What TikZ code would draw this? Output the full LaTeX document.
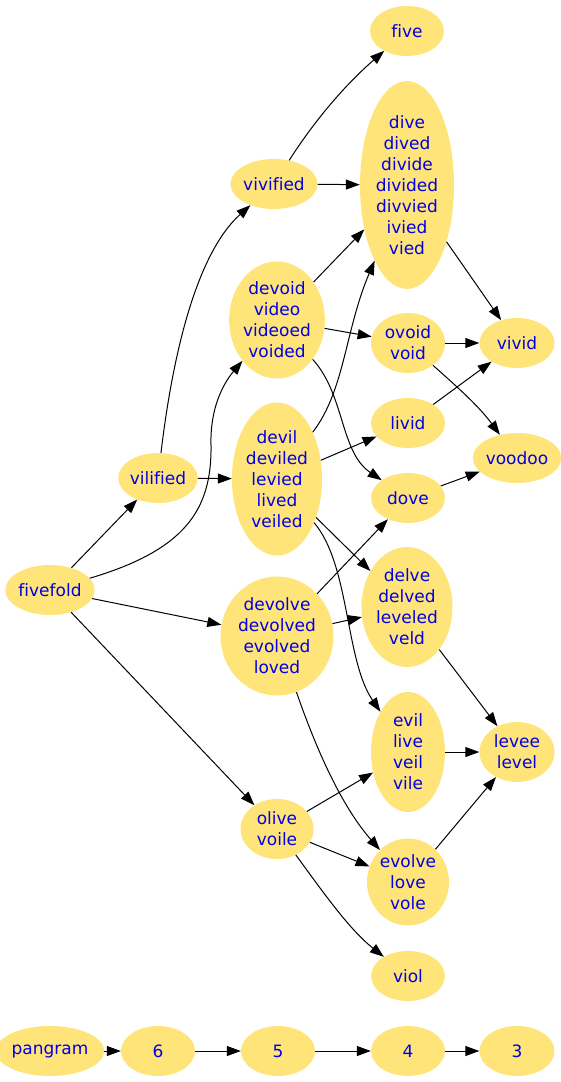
\documentclass[tikz,border=0pt]{standalone}
\usepackage{fontspec}
\setmainfont{DejaVu Sans}[Ligatures={NoCommon}]
\usetikzlibrary{shapes.geometric,arrows.meta}
\definecolor{nodefill}{RGB}{255,228,122}
\definecolor{nodetext}{RGB}{0,0,230}
\tikzset{
  nd/.style={ellipse, fill=nodefill, draw=none, inner sep=0pt, text=nodetext,
    align=center, font=\fontsize{17}{21}\selectfont},
  sm/.style={nd, minimum width=74pt, minimum height=50pt},
  edge/.style={draw=black, line width=1pt, -{Triangle[length=14pt,width=10pt]}}
}
\begin{document}
\begin{tikzpicture}[x=1pt,y=-1pt]
\useasboundingbox (0,0) rectangle (560,1082);
% nodes
\node[sm] (five) at (407,31) {five};
\node[nd, minimum width=94pt, minimum height=208pt] (dive) at (407,185) {dive\\dived\\divide\\divided\\divvied\\ivied\\vied};
\node[sm, minimum width=68pt] (vivified) at (274,184) {vivified};
\node[nd, minimum width=94pt, minimum height=117pt] (devoid) at (277,320) {devoid\\video\\videoed\\voided};
\node[nd, minimum width=74pt, minimum height=60pt] (ovoid) at (408,343) {ovoid\\void};
\node[sm, minimum width=75pt] (vivid) at (517,343) {vivid};
\node[sm] (livid) at (408,423) {livid};
\node[sm, minimum width=75pt] (voodoo) at (517,458) {voodoo};
\node[nd, minimum width=90pt, minimum height=153pt] (devil) at (277,479) {devil\\deviled\\levied\\lived\\veiled};
\node[sm] (vilified) at (158,478) {vilified};
\node[sm] (dove) at (408,498) {dove};
\node[sm, minimum width=75pt] (fivefold) at (50,590) {fivefold};
\node[nd, minimum width=91pt, minimum height=120pt] (delve) at (407,607) {delve\\delved\\leveled\\veld};
\node[nd, minimum width=113pt, minimum height=119pt] (devolve) at (277,636) {devolve\\devolved\\evolved\\loved};
\node[nd, minimum width=74pt, minimum height=120pt] (evil) at (408,752) {evil\\live\\veil\\vile};
\node[nd, minimum width=75pt, minimum height=60pt] (levee) at (517,752) {levee\\level};
\node[nd, minimum width=73pt, minimum height=60pt] (olive) at (277,829) {olive\\voile};
\node[nd, minimum width=82pt, minimum height=87pt] (evolve) at (408,882) {evolve\\love\\vole};
\node[sm] (viol) at (408,976) {viol};
\node[sm, minimum width=89pt] (pangram) at (50,1051) {pangram};
\node[sm] (n6) at (158,1051) {6};
\node[sm] (n5) at (278,1051) {5};
\node[sm] (n4) at (408,1051) {4};
\node[sm, minimum width=75pt] (n3) at (517,1051) {3};
% edges
\draw[edge] (fivefold) -- (vilified);
\draw[edge] (fivefold) .. controls (185,550) and (212,510) .. (211,445) .. controls (210,410) and (222,385) .. (devoid);
\draw[edge] (fivefold) -- (devolve);
\draw[edge] (fivefold) -- (olive);
\draw[edge] (vilified) .. controls (172,360) and (195,255) .. (vivified);
\draw[edge] (vilified) -- (devil);
\draw[edge] (vivified) .. controls (315,120) and (345,85) .. (five);
\draw[edge] (vivified) -- (dive);
\draw[edge] (devoid) -- (dive);
\draw[edge] (devoid) -- (ovoid);
\draw[edge] (devoid) .. controls (345,395) and (340,452) .. (dove);
\draw[edge] (devil) .. controls (345,390) and (345,330) .. (dive);
\draw[edge] (devil) -- (livid);
\draw[edge] (devil) -- (delve);
\draw[edge] (devil) .. controls (350,565) and (345,660) .. (evil);
\draw[edge] (devolve) -- (dove);
\draw[edge] (devolve) -- (delve);
\draw[edge] (devolve) .. controls (320,760) and (345,810) .. (evolve);
\draw[edge] (dive) -- (vivid);
\draw[edge] (ovoid) -- (vivid);
\draw[edge] (ovoid) .. controls (455,385) and (478,405) .. (voodoo);
\draw[edge] (livid) -- (vivid);
\draw[edge] (dove) -- (voodoo);
\draw[edge] (delve) -- (levee);
\draw[edge] (evil) -- (levee);
\draw[edge] (olive) -- (evil);
\draw[edge] (olive) -- (evolve);
\draw[edge] (olive) .. controls (325,895) and (350,930) .. (viol);
\draw[edge] (evolve) -- (levee);
\draw[edge] (pangram) -- (n6);
\draw[edge] (n6) -- (n5);
\draw[edge] (n5) -- (n4);
\draw[edge] (n4) -- (n3);
\end{tikzpicture}
\end{document}
